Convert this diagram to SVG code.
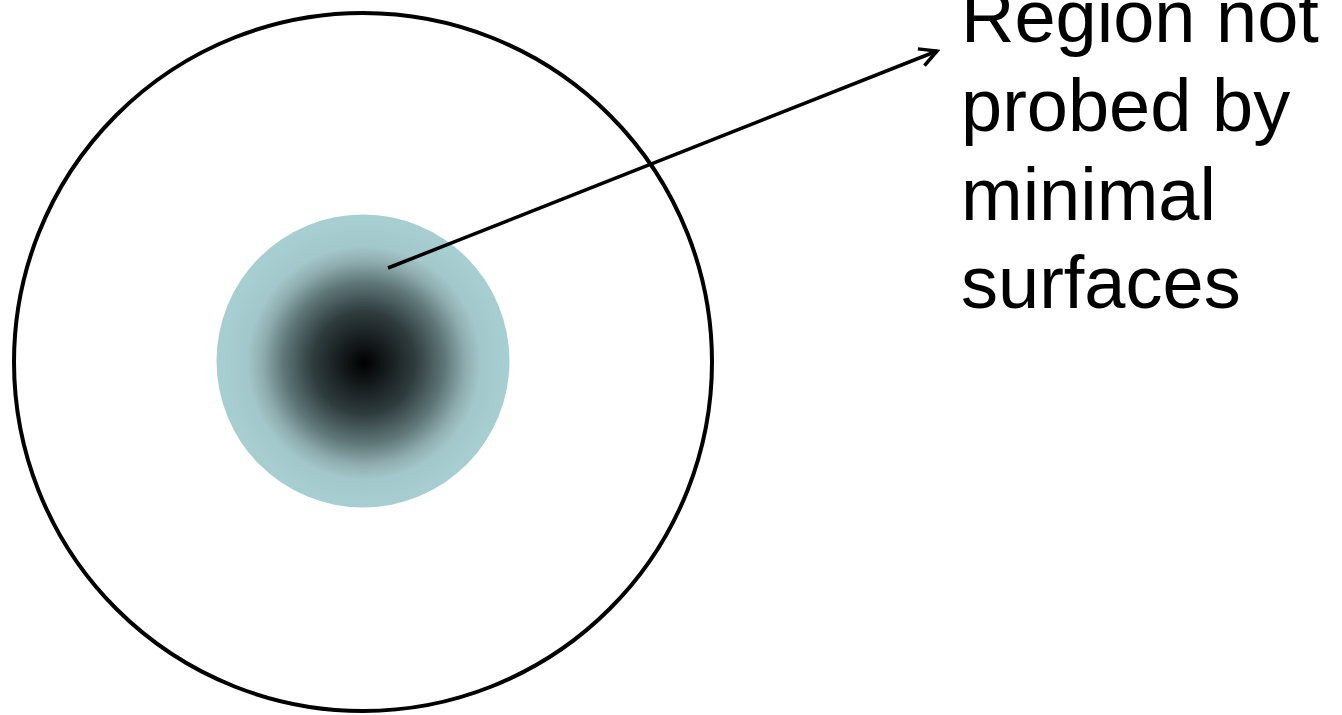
<svg xmlns="http://www.w3.org/2000/svg" width="1342" height="715" viewBox="0 0 1342 715">
<style>
.lbl{font-family:"Liberation Sans",Arial,sans-serif;font-size:74px;fill:#000}
.conn{stroke:#000;stroke-width:3.5;fill:none}
</style>
<defs>
<radialGradient id="core" cx="364" cy="363" r="146" gradientUnits="userSpaceOnUse">
<stop offset="0" stop-color="#000"/>
<stop offset="0.15" stop-color="#141a1b"/>
<stop offset="0.35" stop-color="#2f3c3e"/>
<stop offset="0.55" stop-color="#5f7678"/>
<stop offset="0.7" stop-color="#90aeb0"/>
<stop offset="0.8" stop-color="#a3c7ca"/>
<stop offset="1" stop-color="#a7cfd2"/>
</radialGradient>
<marker id="arr" markerWidth="22" markerHeight="22" refX="19" refY="11" orient="auto" markerUnits="userSpaceOnUse">
<path d="M2,2 L19,11 L2,20" fill="none" stroke="#000" stroke-width="3.5"/>
</marker>
</defs>
<g id="outer"><circle cx="363" cy="362" r="349" fill="#fff" stroke="#000" stroke-width="4"/></g>
<g id="core-region"><circle cx="363" cy="361" r="146.5" fill="url(#core)"/></g>
<g id="connectors"><line class="conn" x1="388" y1="268" x2="937" y2="51" marker-end="url(#arr)"/></g>
<g id="label">
<text class="lbl" x="961" y="42">Region not</text>
<text class="lbl" x="961" y="131">probed by</text>
<text class="lbl" x="961" y="220">minimal</text>
<text class="lbl" x="961" y="308">surfaces</text>
</g>
</svg>
